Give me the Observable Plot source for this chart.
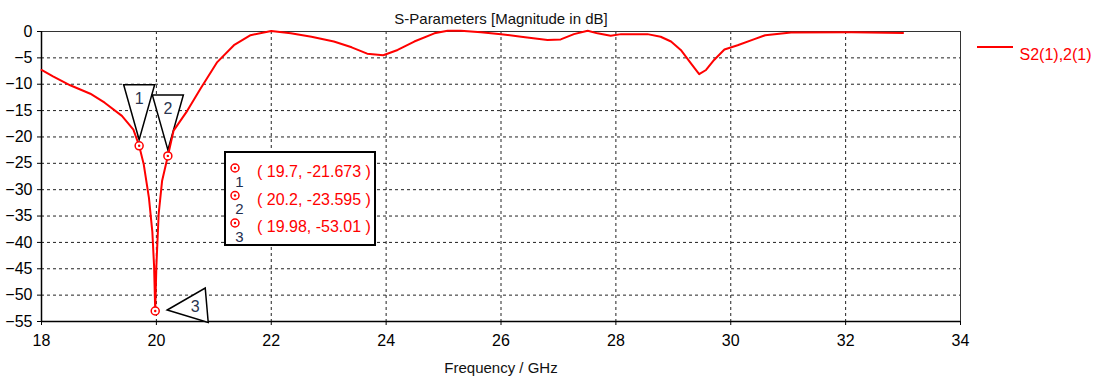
<!DOCTYPE html>
<html><head><meta charset="utf-8">
<script src="https://cdn.jsdelivr.net/npm/d3@7"></script>
<script src="https://cdn.jsdelivr.net/npm/@observablehq/plot@0.6"></script>
<style>html,body{margin:0;padding:0;background:#fff}svg{display:block}</style>
</head><body><div id="chart"></div>
<script>
// ---- data ----
const freq = [18.0,18.2,18.5,18.85,19.1,19.4,19.6,19.7,19.78,19.87,19.93,19.96,19.98,20.0,20.04,20.1,20.2,20.3,20.54,20.77,21.06,21.35,21.64,22.0,22.34,22.7,23.09,23.4,23.67,23.95,24.2,24.49,24.84,25.07,25.3,25.65,26.0,26.35,26.81,27.04,27.27,27.51,27.68,27.91,28.09,28.55,28.78,28.96,29.13,29.31,29.45,29.57,29.71,29.89,30.12,30.4,30.6,31.05,32.1,33.0];
const s21 = [-7.3,-8.5,-10.2,-11.8,-13.5,-16.0,-18.6,-21.673,-25.2,-31.5,-38.0,-44.5,-53.01,-44.5,-34.6,-28.3,-23.595,-18.8,-15.0,-10.8,-5.8,-2.6,-0.7,0.1,-0.35,-1.0,-1.9,-3.0,-4.2,-4.5,-3.5,-1.9,-0.35,0.15,0.15,-0.15,-0.5,-1.0,-1.6,-1.5,-0.5,0.15,-0.35,-0.8,-0.5,-0.5,-1.0,-1.9,-3.5,-6.1,-8.1,-7.3,-5.4,-3.4,-2.6,-1.5,-0.7,-0.2,-0.15,-0.3];
const markerId = [1, 2, 3];
const markerFreq = [19.7, 20.2, 19.98];
const markerVal = [-21.673, -23.595, -53.01];
const markerLabelDir = ["down", "down", "left"];
const xTicks = [18, 20, 22, 24, 26, 28, 30, 32, 34];
const yTicks = [0, -5, -10, -15, -20, -25, -30, -35, -40, -45, -50, -55];
const titleText = "S-Parameters [Magnitude in dB]";
const xLabelText = "Frequency / GHz";
const seriesName = "S2(1),2(1)";

// ---- tables ----
const curve = freq.map((f, i) => ({f, v: s21[i]}));
const markers = markerId.map((id, i) => ({id, f: markerFreq[i], v: markerVal[i], dir: markerLabelDir[i]}));
const downM = markers.filter(d => d.dir === "down");
const leftM = markers.filter(d => d.dir === "left");

const RED = "#ff0000";
const FONT = "'Liberation Sans', Arial, sans-serif";

const triDown = {draw(c) { c.moveTo(0, -6); c.lineTo(-15.5, -61); c.lineTo(15.5, -61); c.closePath(); }};
const triLeft = {draw(c) { c.moveTo(12, -1); c.lineTo(50, -23); c.lineTo(53, 11.5); c.closePath(); }};

function markerIcon(g, x, y) {
  g.append("circle").attr("cx", x).attr("cy", y).attr("r", 4).attr("fill", "white").attr("stroke", RED).attr("stroke-width", 1.5);
  g.append("circle").attr("cx", x).attr("cy", y).attr("r", 1.2).attr("fill", RED);
}

// info box + legend swatch (annotation layer)
function annotations(index, scales, values, dims) {
  const g = d3.create("svg:g").attr("font-family", FONT).attr("text-anchor", "start");
  const L = dims.marginLeft + 184, T = dims.marginTop + 121;
  g.append("rect").attr("x", L).attr("y", T).attr("width", 150).attr("height", 93)
    .attr("fill", "white").attr("stroke", "black").attr("stroke-width", 2);
  markers.forEach((m, i) => {
    const cy = T + 16 + i * 27.5;
    markerIcon(g, L + 10, cy);
    g.append("text").attr("x", L + 14.5).attr("y", cy + 13.5).attr("dy", "0.35em")
      .attr("text-anchor", "middle").attr("font-size", 15).attr("fill", "#1f2d4d").text(m.id);
    g.append("text").attr("x", L + 32).attr("y", cy + 3.5).attr("dy", "0.35em")
      .attr("text-anchor", "start").attr("font-size", 16).attr("fill", RED).text(`( ${m.f}, ${m.v} )`);
  });
  const lx = dims.width - dims.marginRight + 17;
  const ly = dims.marginTop + 16;
  g.append("line").attr("x1", lx).attr("x2", lx + 36).attr("y1", ly).attr("y2", ly)
    .attr("stroke", RED).attr("stroke-width", 2);
  return g.node();
}

const chart = Plot.plot({
  width: 1100,
  height: 391,
  marginLeft: 41,
  marginRight: 140,
  marginTop: 31,
  marginBottom: 70,
  style: {fontFamily: FONT, fontSize: "15px", color: "#000", background: "#fff", overflow: "visible"},
  x: {domain: [18, 34]},
  y: {domain: [-55, 0]},
  marks: [
    Plot.gridX(xTicks.slice(1, -1), {stroke: "#222", strokeOpacity: 1, strokeDasharray: "3,3"}),
    Plot.gridY(yTicks.slice(1, -1), {stroke: "#222", strokeOpacity: 1, strokeDasharray: "3,3"}),
    Plot.frame({stroke: "#333", strokeWidth: 1}),
    Plot.ruleX([18], {stroke: "black", strokeWidth: 1.5}),
    Plot.ruleY([-55], {stroke: "black", strokeWidth: 1.5}),
    Plot.axisX(xTicks, {tickSize: 4, tickPadding: 9, label: null, fontSize: 16}),
    Plot.axisY(yTicks, {tickSize: 4, tickPadding: 5, label: null, fontSize: 16}),
    Plot.dot(downM, {x: "f", y: "v", symbol: triDown, r: 10, fill: "white", stroke: "black", strokeWidth: 1.5}),
    Plot.dot(leftM, {x: "f", y: "v", symbol: triLeft, r: 10, fill: "white", stroke: "black", strokeWidth: 1.5}),
    Plot.line(curve, {x: "f", y: "v", stroke: RED, strokeWidth: 2}),
    Plot.dot(markers, {x: "f", y: "v", r: 4, fill: "white", stroke: RED, strokeWidth: 1.5}),
    Plot.dot(markers, {x: "f", y: "v", r: 1.2, fill: RED}),
    Plot.text(downM, {x: "f", y: "v", text: "id", dy: -47, fill: "#2a3550", fontSize: 16}),
    Plot.text(leftM, {x: "f", y: "v", text: "id", dx: 40, dy: -4, fill: "#2a3550", fontSize: 16}),
    Plot.text([titleText], {frameAnchor: "top", dy: -18, fontSize: 15, fill: "#111"}),
    Plot.text([xLabelText], {frameAnchor: "bottom", dy: 51, fontSize: 15, fill: "#111"}),
    Plot.text([seriesName], {frameAnchor: "top-right", dx: 59, dy: 17, textAnchor: "start", fill: RED, fontSize: 16}),
    annotations
  ]
});
document.getElementById("chart").append(chart);
</script>
</body></html>
